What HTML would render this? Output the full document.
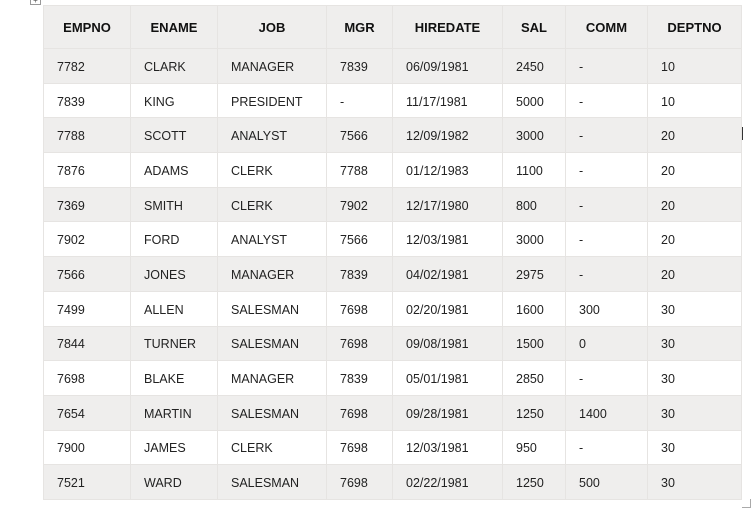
<!DOCTYPE html>
<html><head><meta charset="utf-8"><style>
body{margin:0;width:752px;height:510px;background:#fff;position:relative;overflow:hidden;font-family:"Liberation Sans",sans-serif;}
table{position:absolute;left:43px;top:5px;border-collapse:collapse;table-layout:fixed;width:698px;}
td,th{border:1px solid #e6e4e2;padding:2px 0 0 13px;font-size:12.5px;color:#222;text-align:left;height:31.7px;white-space:nowrap;}
th{height:41px;font-weight:bold;font-size:13px;text-align:center;padding:1px 0 0 0;color:#111;}
thead tr,tr.g{background:#efeeed;}
.h{position:absolute;left:30px;top:-4px;width:9px;height:7px;border:1px solid #999;background:#fff;font-size:8px;line-height:7px;text-align:center;color:#555}
.r{position:absolute;left:742px;top:499px;width:8px;height:8px;border:1px solid #aaa;border-top:none;border-left:none;}
.c{position:absolute;left:742px;top:127px;width:1px;height:13px;background:#333}
</style></head><body>
<div class="h">+</div>
<div class="c"></div>
<table>
<colgroup><col style="width:87px"><col style="width:87px"><col style="width:109px"><col style="width:66px"><col style="width:110px"><col style="width:63px"><col style="width:82px"><col style="width:94px"></colgroup>
<thead><tr><th>EMPNO</th><th>ENAME</th><th>JOB</th><th>MGR</th><th>HIREDATE</th><th>SAL</th><th>COMM</th><th>DEPTNO</th></tr></thead>
<tbody id="tb"></tbody></table>
<div class="r"></div>
<script>
const rows=[
["7782","CLARK","MANAGER","7839","06/09/1981","2450","-","10"],
["7839","KING","PRESIDENT","-","11/17/1981","5000","-","10"],
["7788","SCOTT","ANALYST","7566","12/09/1982","3000","-","20"],
["7876","ADAMS","CLERK","7788","01/12/1983","1100","-","20"],
["7369","SMITH","CLERK","7902","12/17/1980","800","-","20"],
["7902","FORD","ANALYST","7566","12/03/1981","3000","-","20"],
["7566","JONES","MANAGER","7839","04/02/1981","2975","-","20"],
["7499","ALLEN","SALESMAN","7698","02/20/1981","1600","300","30"],
["7844","TURNER","SALESMAN","7698","09/08/1981","1500","0","30"],
["7698","BLAKE","MANAGER","7839","05/01/1981","2850","-","30"],
["7654","MARTIN","SALESMAN","7698","09/28/1981","1250","1400","30"],
["7900","JAMES","CLERK","7698","12/03/1981","950","-","30"],
["7521","WARD","SALESMAN","7698","02/22/1981","1250","500","30"]];
const tb=document.getElementById('tb');
rows.forEach((r,i)=>{const tr=document.createElement('tr');if(i%2==0)tr.className='g';


r.forEach(v=>{const td=document.createElement('td');td.textContent=v;


tr.appendChild(td);});tb.appendChild(tr);});
</script>
</body></html>
